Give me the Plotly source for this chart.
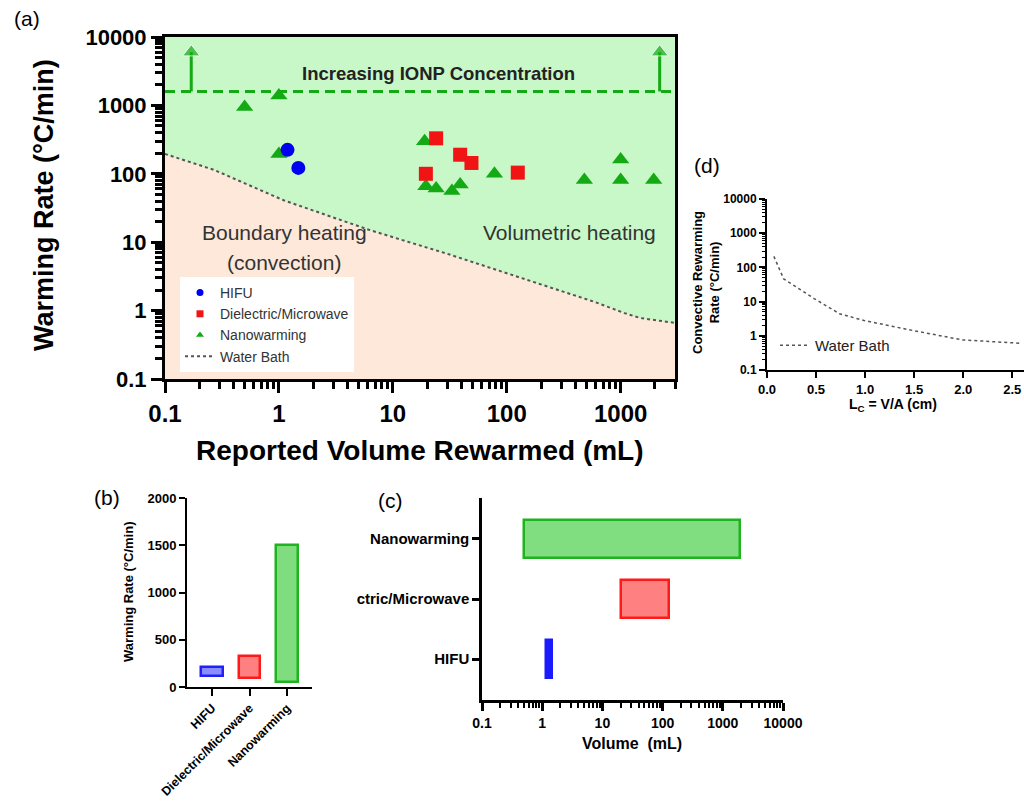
import plotly.graph_objects as go

# ---------------- data ----------------
# (a) scatter data
hifu_x = [1.19, 1.48]
hifu_y = [224, 122]
dm_x = [24, 39, 49, 19.5, 125]
dm_y = [330, 190, 144, 100, 104]
nano_x = [0.5, 1.0, 1.0, 19, 19.5, 24, 33, 39, 78, 480, 1000, 1000, 1950]
nano_y = [950, 1400, 195, 300, 66, 61, 56, 70, 100, 81, 162, 81, 81]
# water bath boundary in (a)
bath_x = [0.1, 0.27, 1.1, 6.3, 29, 590, 1080, 1480, 3000]
bath_y = [195, 114, 41, 15, 6.9, 1.34, 0.92, 0.78, 0.66]
# IONP concentration line and arrows
ionp_level = 1600
ionp_arrow_x = [0.17, 2200]
ionp_arrow_top = 6000
a_xrange_vals = [0.1, 3000]
a_ymin = 0.1

# (b) warming-rate ranges
b_cats = ["HIFU", "Dielectric/Microwave", "Nanowarming"]
b_low = [115, 100, 55]
b_high = [215, 325, 1500]
b_ticks = [0, 500, 1000, 1500, 2000]

# (c) volume ranges
c_cats = ["HIFU", "Dielectric/Microwave", "Nanowarming"]
c_ticktext = ["HIFU", "ctric/Microwave", "Nanowarming"]
c_low = [1.15, 20, 0.5]
c_high = [1.45, 128, 1950]

# (d) convective rewarming
d_x = [0.07, 0.17, 0.48, 0.74, 0.99, 1.48, 1.99, 2.6]
d_y = [210, 46, 12.3, 4.4, 2.8, 1.44, 0.76, 0.6]
d_xticks = [0.0, 0.5, 1.0, 1.5, 2.0, 2.5]

# ---------------- styles ----------------
FONT = "Arial, Liberation Sans, sans-serif"
GREEN_BG = "#c8f7c8"
PEACH = "#fde8da"
BLUE = "#0000f0"
RED = "#f01414"
GREEN = "#14aa14"
LINEC = "#555555"

def px_x(px):
    return px / 1024.0

def px_y(py):
    return 1 - py / 808.0

fig = go.Figure()

# ---- panel (a) ----
fig.add_trace(go.Scatter(
    x=bath_x + [a_xrange_vals[1], a_xrange_vals[0]],
    y=bath_y + [a_ymin, a_ymin],
    fill="toself", fillcolor=PEACH, mode="lines", line=dict(width=0),
    showlegend=False, hoverinfo="skip", xaxis="x", yaxis="y"))
fig.add_trace(go.Scatter(
    x=bath_x, y=bath_y, mode="lines",
    line=dict(color=LINEC, width=2, dash="dot"),
    name="Water Bath", legend="legend", legendrank=4, xaxis="x", yaxis="y"))
fig.add_trace(go.Scatter(
    x=a_xrange_vals, y=[ionp_level, ionp_level], mode="lines",
    line=dict(color=GREEN, width=3, dash="10px,6px"),
    showlegend=False, hoverinfo="skip", xaxis="x", yaxis="y"))
for ax_ in ionp_arrow_x:
    fig.add_trace(go.Scatter(
        x=[ax_, ax_], y=[ionp_level, ionp_arrow_top], mode="lines+markers",
        line=dict(color=GREEN, width=3),
        marker=dict(symbol="triangle-up", size=[0, 15], color=GREEN),
        showlegend=False, hoverinfo="skip", xaxis="x", yaxis="y"))
fig.add_trace(go.Scatter(
    x=nano_x, y=nano_y, mode="markers",
    marker=dict(symbol="triangle-up", size=15, color=GREEN),
    showlegend=False, xaxis="x", yaxis="y"))
fig.add_trace(go.Scatter(
    x=dm_x, y=dm_y, mode="markers",
    marker=dict(symbol="square", size=14, color=RED),
    showlegend=False, xaxis="x", yaxis="y"))
fig.add_trace(go.Scatter(
    x=hifu_x, y=hifu_y, mode="markers",
    marker=dict(symbol="circle", size=14, color=BLUE),
    showlegend=False, xaxis="x", yaxis="y"))
# legend entries (small symbols)
fig.add_trace(go.Scatter(x=[None], y=[None], mode="markers", name="HIFU",
                         marker=dict(symbol="circle", size=7, color=BLUE),
                         legend="legend", legendrank=1, xaxis="x", yaxis="y"))
fig.add_trace(go.Scatter(x=[None], y=[None], mode="markers", name="Dielectric/Microwave",
                         marker=dict(symbol="square", size=7, color=RED),
                         legend="legend", legendrank=2, xaxis="x", yaxis="y"))
fig.add_trace(go.Scatter(x=[None], y=[None], mode="markers", name="Nanowarming",
                         marker=dict(symbol="triangle-up", size=7, color=GREEN),
                         legend="legend", legendrank=3, xaxis="x", yaxis="y"))

# ---- panel (b) ----
b_fill = ["#8c8cff", "#ff8080", "#7fdc7f"]
b_line = ["#2020ff", "#ff1a1a", "#1fb41f"]
fig.add_trace(go.Bar(
    x=list(range(len(b_cats))), y=[h - l for h, l in zip(b_high, b_low)], base=b_low,
    width=0.58, marker=dict(color=b_fill, line=dict(color=b_line, width=2.5)),
    showlegend=False, xaxis="x2", yaxis="y2"))

# ---- panel (c) ----
c_fill = ["#1a1aff", "#ff8080", "#80dd80"]
c_line = ["#1a1aff", "#ff1a1a", "#1fb41f"]
fig.add_trace(go.Bar(
    y=list(range(len(c_cats))), x=[h - l for h, l in zip(c_high, c_low)], base=c_low,
    orientation="h", width=0.62,
    marker=dict(color=c_fill, line=dict(color=c_line, width=2.5)),
    showlegend=False, xaxis="x3", yaxis="y3"))

# ---- panel (d) ----
fig.add_trace(go.Scatter(
    x=d_x, y=d_y, mode="lines", line=dict(color=LINEC, width=1.5, dash="dot"),
    name="Water Bath", legend="legend2", xaxis="x4", yaxis="y4"))

# ---------------- axes ----------------
def bold(s):
    return dict(family=FONT, size=s, color="black", weight="bold")

common = dict(showgrid=False, zeroline=False, automargin=False, linecolor="black",
              showline=True, ticks="outside")

def log_axis(rng, font, length, width, mlength, mwidth):
    return dict(type="log", range=rng, tickmode="linear", tick0=0, dtick=1,
                exponentformat="none", tickfont=font, ticklen=length, tickwidth=width,
                tickcolor="black",
                minor=dict(ticks="outside", ticklen=mlength, tickwidth=mwidth,
                           tickcolor="black", showgrid=False))

fig.update_layout(
    template="none",
    separators=".",
    width=1024, height=808, margin=dict(l=0, r=0, t=0, b=0, autoexpand=False),
    paper_bgcolor="white", plot_bgcolor="rgba(0,0,0,0)",
    font=dict(family=FONT, color="black"),
    bargap=0,
    # (a)
    xaxis=dict(domain=[px_x(165), px_x(675)], anchor="y",
               **log_axis([-1, 3.477], bold(24), 11, 3, 7, 2.5),
               linewidth=3, mirror=True, **common),
    yaxis=dict(domain=[px_y(379), px_y(37)], anchor="x",
               **log_axis([-1, 4], bold(22), 11, 3, 7, 2.5),
               linewidth=3, mirror=True, **common),
    # (b)
    xaxis2=dict(domain=[px_x(187), px_x(312)], anchor="y2", range=[-0.67, 2.67],
                tickmode="array", tickvals=list(range(len(b_cats))), ticktext=b_cats,
                tickangle=-45, tickfont=bold(12.5), ticklen=7, tickwidth=2,
                tickcolor="black", linewidth=2, **common),
    yaxis2=dict(domain=[px_y(687), px_y(498)], anchor="x2", range=[0, 2000],
                tickmode="array", tickvals=b_ticks, tickfont=bold(13),
                ticklen=6, tickwidth=2, tickcolor="black", linewidth=2, **common),
    # (c)
    xaxis3=dict(domain=[px_x(482), px_x(783)], anchor="y3",
                **log_axis([-1, 4], bold(14), 8, 2.5, 5, 1.5),
                linewidth=2.5, **common),
    yaxis3=dict(domain=[px_y(700), px_y(498)], anchor="x3", range=[-0.68, 2.68],
                tickmode="array", tickvals=list(range(len(c_cats))), ticktext=c_ticktext,
                tickfont=bold(15), ticklen=7, tickwidth=2.5, tickcolor="black",
                linewidth=2.5, **common),
    # (d)
    xaxis4=dict(domain=[px_x(767), 1.0], anchor="y4", range=[0, 2.62],
                tickmode="array", tickvals=d_xticks, tickformat=".1f", tickfont=bold(13),
                ticklen=6, tickwidth=2, tickcolor="black", linewidth=2, **common),
    yaxis4=dict(domain=[px_y(370), px_y(199)], anchor="x4",
                **log_axis([-1, 4], bold(12), 6, 2, 3.5, 1.2),
                linewidth=2, **common),
    legend=dict(x=px_x(180), y=px_y(277), xanchor="left", yanchor="top",
                bgcolor="white", borderwidth=0, font=dict(family=FONT, size=14, color="#333"),
                itemwidth=30, tracegroupgap=0),
    legend2=dict(x=px_x(775), y=px_y(329), xanchor="left", yanchor="top",
                 bgcolor="rgba(0,0,0,0)", font=dict(family=FONT, size=15, color="#222"),
                 itemwidth=30),
)

# green background in (a)
fig.add_shape(type="rect", xref="x domain", yref="y domain", x0=0, x1=1, y0=0, y1=1,
              fillcolor=GREEN_BG, line=dict(width=0), layer="below")

def ann(text, px, py, size, bold_=False, color="black", angle=0, xanchor="center"):
    fig.add_annotation(text=text, x=px_x(px), y=px_y(py), xref="paper", yref="paper",
                       showarrow=False, textangle=angle, xanchor=xanchor, yanchor="middle",
                       font=dict(family=FONT, size=size, color=color,
                                 weight="bold" if bold_ else "normal"))

# panel labels
ann("(a)", 27, 18, 21)
ann("(b)", 107, 497, 21)
ann("(c)", 390, 500, 21)
ann("(d)", 707, 166, 21)

# (a) texts
ann("Increasing IONP Concentration", 438, 74, 18.5, bold_=True, color="#222")
ann("Boundary heating", 284, 233, 21, color="#333")
ann("(convection)", 284, 262, 21, color="#333")
ann("Volumetric heating", 569, 233, 21, color="#333")
ann("Warming Rate (°C/min)", 44, 205, 27, bold_=True, angle=-90)
ann("Reported Volume Rewarmed (mL)", 420, 450, 28, bold_=True)

# (b) titles
ann("Warming Rate (°C/min)", 128, 592, 13, bold_=True, angle=-90)
# (c) title
ann("Volume  (mL)", 632, 743, 16, bold_=True)
# (d) titles
ann("Convective Rewarming<br>Rate (°C/min)", 706, 283, 13, bold_=True, angle=-90)
ann("L<sub>C</sub> = V/A (cm)", 893, 405, 14, bold_=True)

fig.write_html("out.html", config={"displayModeBar": False},
               post_script="document.body.style.margin='0px';"
                           "document.body.style.overflow='hidden';")
